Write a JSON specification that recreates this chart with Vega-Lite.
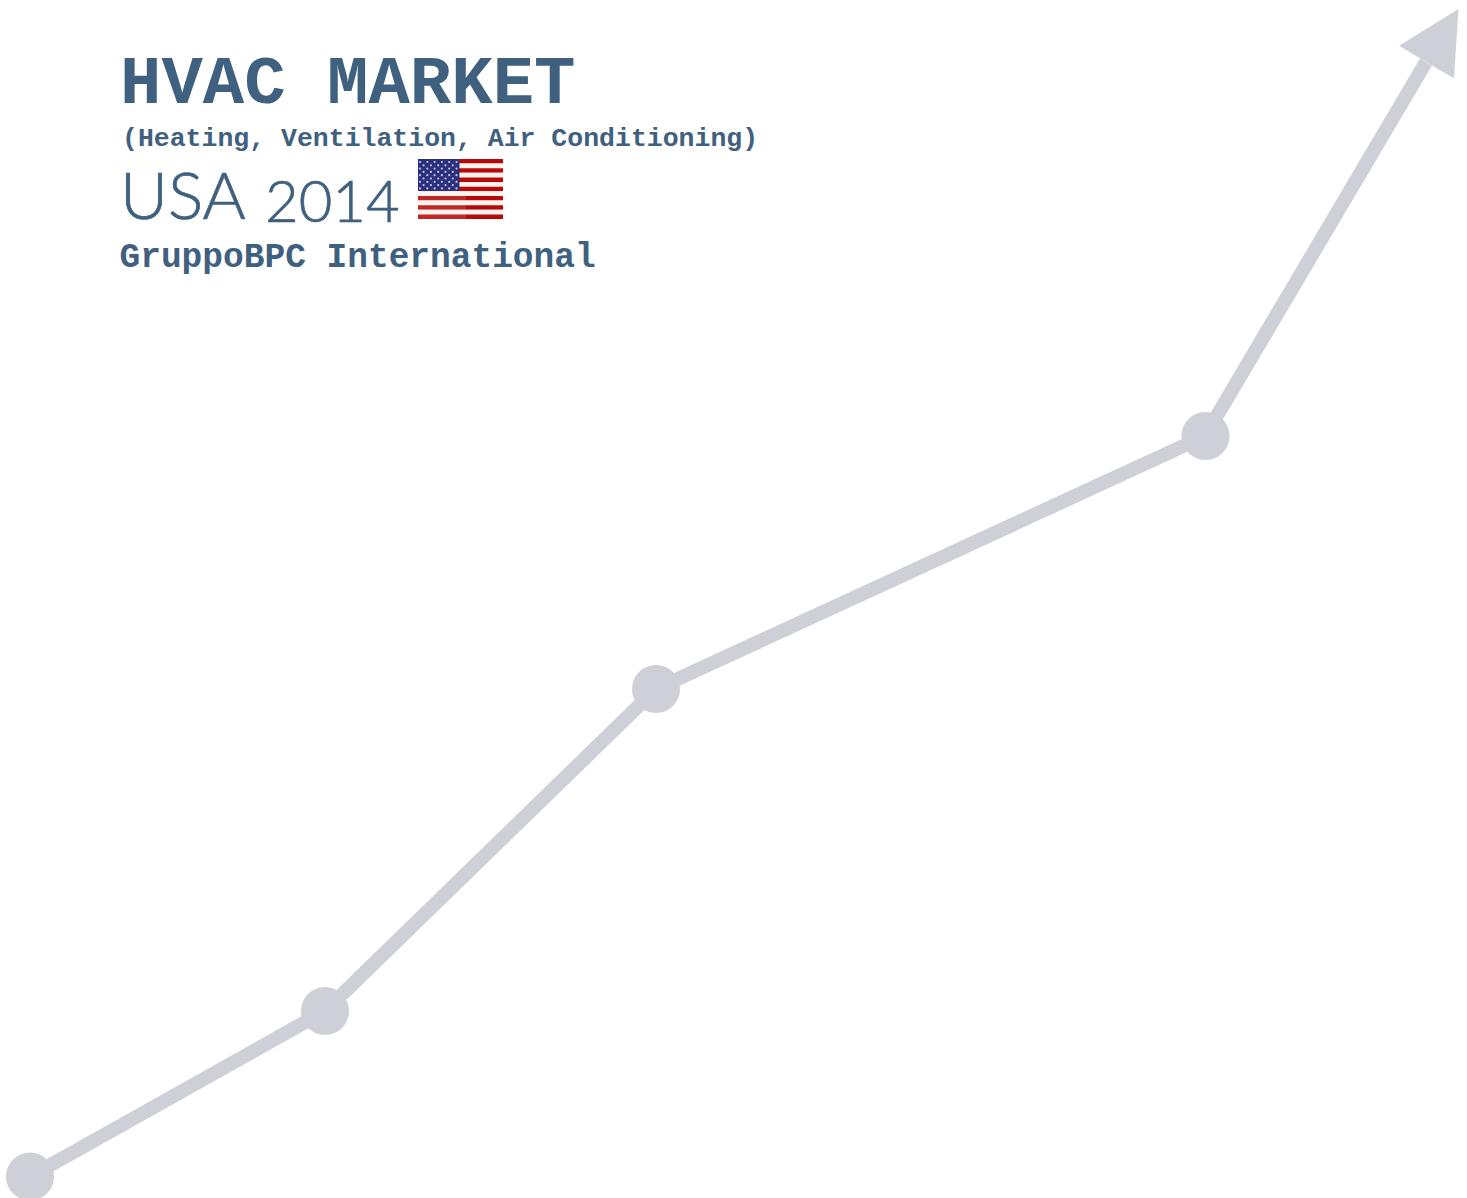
{"$schema":"https://vega.github.io/schema/vega-lite/v6.json","width":1467,"height":1198,"padding":0,"autosize":{"type":"fit","contains":"padding"},"background":"#ffffff","view":{"stroke":null},
"datasets":{
"line":[{"x":30,"y":1176.5},{"x":325,"y":1011},{"x":656,"y":689},{"x":1205,"y":436},{"x":1426,"y":62}],
"nodes":[{"x":30,"y":1176.5},{"x":325,"y":1011},{"x":656,"y":689},{"x":1205.5,"y":436}],
"head":[{"x":1442.5,"y":35.5}],
"titleA":[{"x":120,"y":103,"t":"HVAC MARKET"}],
"titleB":[{"x":122,"y":146,"t":"(Heating, Ventilation, Air Conditioning)"}],
"titleC":[{"x":120,"y":219,"t":"USA"}],
"titleD":[{"x":265,"y":222,"t":"2014"}],
"titleE":[{"x":119.5,"y":267,"t":"GruppoBPC International"}],
"flag":[
{"a":418,"b":503,"c":159,"d":163.6,"k":"red"},{"a":418,"b":503,"c":163.6,"d":168.2,"k":"white"},{"a":418,"b":503,"c":168.2,"d":172.8,"k":"red"},{"a":418,"b":503,"c":172.8,"d":177.5,"k":"white"},{"a":418,"b":503,"c":177.5,"d":182.1,"k":"red"},{"a":418,"b":503,"c":182.1,"d":186.7,"k":"white"},{"a":418,"b":503,"c":186.7,"d":191.3,"k":"red"},{"a":418,"b":503,"c":191.3,"d":195.9,"k":"white"},{"a":418,"b":503,"c":195.9,"d":200.5,"k":"red"},{"a":418,"b":503,"c":200.5,"d":205.2,"k":"white"},{"a":418,"b":503,"c":205.2,"d":209.8,"k":"red"},{"a":418,"b":503,"c":209.8,"d":214.4,"k":"white"},{"a":418,"b":503,"c":214.4,"d":219,"k":"red"},
{"a":418,"b":459.5,"c":159,"d":191,"k":"blue"}],
"gloss":[{"a":418,"b":466,"c":191,"d":219}],
"stars":[
{"x":420,"y":162},{"x":427.3,"y":162},{"x":434.6,"y":162},{"x":441.9,"y":162},{"x":449.2,"y":162},{"x":456.5,"y":162},
{"x":423.6,"y":165.3},{"x":430.9,"y":165.3},{"x":438.2,"y":165.3},{"x":445.5,"y":165.3},{"x":452.8,"y":165.3},
{"x":420,"y":168.6},{"x":427.3,"y":168.6},{"x":434.6,"y":168.6},{"x":441.9,"y":168.6},{"x":449.2,"y":168.6},{"x":456.5,"y":168.6},
{"x":423.6,"y":171.9},{"x":430.9,"y":171.9},{"x":438.2,"y":171.9},{"x":445.5,"y":171.9},{"x":452.8,"y":171.9},
{"x":420,"y":175.2},{"x":427.3,"y":175.2},{"x":434.6,"y":175.2},{"x":441.9,"y":175.2},{"x":449.2,"y":175.2},{"x":456.5,"y":175.2},
{"x":423.6,"y":178.5},{"x":430.9,"y":178.5},{"x":438.2,"y":178.5},{"x":445.5,"y":178.5},{"x":452.8,"y":178.5},
{"x":420,"y":181.8},{"x":427.3,"y":181.8},{"x":434.6,"y":181.8},{"x":441.9,"y":181.8},{"x":449.2,"y":181.8},{"x":456.5,"y":181.8},
{"x":423.6,"y":185.1},{"x":430.9,"y":185.1},{"x":438.2,"y":185.1},{"x":445.5,"y":185.1},{"x":452.8,"y":185.1},
{"x":420,"y":188.4},{"x":427.3,"y":188.4},{"x":434.6,"y":188.4},{"x":441.9,"y":188.4},{"x":449.2,"y":188.4},{"x":456.5,"y":188.4}]
},
"encoding":{
"x":{"field":"x","type":"quantitative","axis":null,"scale":{"domain":[0,1467],"nice":false,"zero":false}},
"y":{"field":"y","type":"quantitative","axis":null,"scale":{"domain":[1198,0],"nice":false,"zero":false}}
},
"layer":[
{"data":{"name":"line"},"mark":{"type":"line","color":"#cfcfd8","strokeWidth":14,"strokeJoin":"round","clip":true}},
{"data":{"name":"nodes"},"mark":{"type":"point","filled":true,"opacity":1,"color":"#cfcfd8","shape":"circle","size":2304,"clip":true}},
{"data":{"name":"head"},"mark":{"type":"point","filled":true,"opacity":1,"color":"#cfcfd8","shape":"M0,-0.97L1,0.97L-1,0.97Z","size":4096,"angle":31}},
{"data":{"name":"titleA"},"mark":{"type":"text","align":"left","baseline":"alphabetic","font":"Liberation Mono","fontWeight":"bold","fontSize":69,"color":"#3f607f"},"encoding":{"text":{"field":"t"}}},
{"data":{"name":"titleB"},"mark":{"type":"text","align":"left","baseline":"alphabetic","font":"Liberation Mono","fontWeight":"bold","fontSize":26.5,"color":"#3f607f"},"encoding":{"text":{"field":"t"}}},
{"data":{"name":"titleC"},"mark":{"type":"text","align":"left","baseline":"alphabetic","font":"Lato","fontWeight":300,"fontSize":66,"color":"#3f607f","stroke":"#3f607f","strokeWidth":0.7},"encoding":{"text":{"field":"t"}}},
{"data":{"name":"titleD"},"mark":{"type":"text","align":"left","baseline":"alphabetic","font":"Lato","fontWeight":300,"fontSize":58,"color":"#3f607f","stroke":"#3f607f","strokeWidth":0.7},"encoding":{"text":{"field":"t"}}},
{"data":{"name":"titleE"},"mark":{"type":"text","align":"left","baseline":"alphabetic","font":"Liberation Mono","fontWeight":"bold","fontSize":34.5,"color":"#3f607f"},"encoding":{"text":{"field":"t"}}},
{"data":{"name":"flag"},"mark":{"type":"rect"},"encoding":{"x":{"field":"a","type":"quantitative"},"x2":{"field":"b"},"y":{"field":"c","type":"quantitative"},"y2":{"field":"d"},"color":{"field":"k","type":"nominal","legend":null,"scale":{"domain":["red","white","blue"],"range":["#b90808","#fdf3ee","#2c2f7c"]}}}},
{"data":{"name":"stars"},"mark":{"type":"point","filled":true,"opacity":1,"color":"#c3c6ea","shape":"circle","size":5}},
{"data":{"name":"gloss"},"mark":{"type":"rect","color":"#ffffff","opacity":0.12},"encoding":{"x":{"field":"a","type":"quantitative"},"x2":{"field":"b"},"y":{"field":"c","type":"quantitative"},"y2":{"field":"d"}}}
]}
